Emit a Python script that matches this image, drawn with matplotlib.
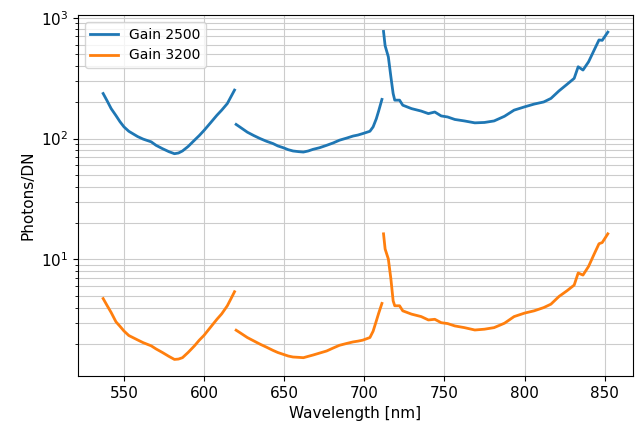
import numpy as np
import matplotlib

matplotlib.use("Agg")
import matplotlib.pyplot as plt  # noqa: E402

# 세 구간(분광기 채널)별 파장 [nm]
wl_seg1 = [537, 539.5, 542, 545, 547.5, 550, 553, 558.5, 562, 567, 570, 574, 578, 581.5, 584,
           586.5, 590, 594, 597, 600, 604, 608, 611, 614.5, 617, 619]
wl_seg2 = [620, 623, 627, 631, 635, 639, 643, 646, 649.5, 652.5, 655.5, 659, 662, 665, 668, 672,
           676.5, 680.5, 684.5, 689, 693, 696, 699, 703.5, 705.5, 707.5, 709, 711]
wl_seg3 = [712, 713, 715, 716.6, 718, 719, 722, 724, 729.5, 735.5, 740, 744, 748, 752, 756.5,
           762.5, 769, 775, 781, 787.5, 793.5, 800, 806, 812, 816.5, 821.5, 826.5, 831, 833.5,
           836.5, 840, 843.5, 846.5, 848.5, 852]

gain2500_seg1 = [236, 205, 177, 155, 138, 125, 115, 104, 99, 94, 88, 82.6, 78, 75, 76,
                 79, 86, 97, 106, 117, 135, 156, 172, 195, 225, 252]
gain2500_seg2 = [131, 123, 113, 106, 100, 95, 91, 87, 84, 81, 79, 78, 77.4, 79, 81.5, 84,
                 88, 92, 97, 101, 105, 107, 110, 115, 125, 146, 170, 211]
gain2500_seg3 = [770, 586, 475, 324, 236, 208, 208, 189, 177, 169, 161, 166, 154, 151, 144,
                 140, 135, 136, 140, 153, 172, 183, 193, 201, 215, 248, 281, 315, 393,
                 369, 432, 541, 655, 650, 760]

gain3200_seg1 = [4.75, 4.15, 3.64, 3.05, 2.8, 2.56, 2.35, 2.16, 2.05, 1.93, 1.82, 1.70, 1.58, 1.49, 1.5,
                 1.54, 1.7, 1.93, 2.15, 2.36, 2.75, 3.2, 3.55, 4.14, 4.8, 5.41]
gain3200_seg2 = [2.6, 2.45, 2.26, 2.12, 1.99, 1.88, 1.77, 1.70, 1.64, 1.59, 1.56, 1.55, 1.54, 1.58, 1.62, 1.68,
                 1.75, 1.85, 1.95, 2.02, 2.08, 2.11, 2.15, 2.26, 2.55, 3.1, 3.6, 4.33]
gain3200_seg3 = [16.3, 12.2, 10.1, 6.9, 4.55, 4.14, 4.14, 3.76, 3.53, 3.37, 3.16, 3.2, 3.0, 2.95, 2.82,
                 2.73, 2.61, 2.65, 2.73, 2.97, 3.37, 3.6, 3.76, 4.0, 4.27, 4.94, 5.51, 6.14, 7.73,
                 7.43, 8.77, 11.1, 13.5, 13.8, 16.3]


def _join(*segs):
    # 구간 사이를 NaN으로 끊어서 한 줄로 그린다
    out = []
    for i, s in enumerate(segs):
        if i:
            out.append(np.nan)
        out.extend(s)
    return np.array(out, dtype=float)


wavelength = _join(wl_seg1, wl_seg2, wl_seg3)
gain2500 = _join(gain2500_seg1, gain2500_seg2, gain2500_seg3)
gain3200 = _join(gain3200_seg1, gain3200_seg2, gain3200_seg3)

fig = plt.figure(figsize=(6.44, 4.30), dpi=100)
ax = fig.add_axes([0.121, 0.126, 0.862, 0.839])
ax.plot(wavelength, gain2500, color="#1f77b4", linewidth=2, label="Gain 2500")
ax.plot(wavelength, gain3200, color="#ff7f0e", linewidth=2, label="Gain 3200")
ax.set_yscale("log")
ax.grid(which="both", color="#cccccc", linewidth=0.8)
ax.set_xlabel("Wavelength [nm]", fontsize=11)
ax.set_ylabel("Photons/DN", fontsize=11)
ax.tick_params(labelsize=11)
ax.legend(loc="upper left")

fig.savefig("out.png", dpi=100)
